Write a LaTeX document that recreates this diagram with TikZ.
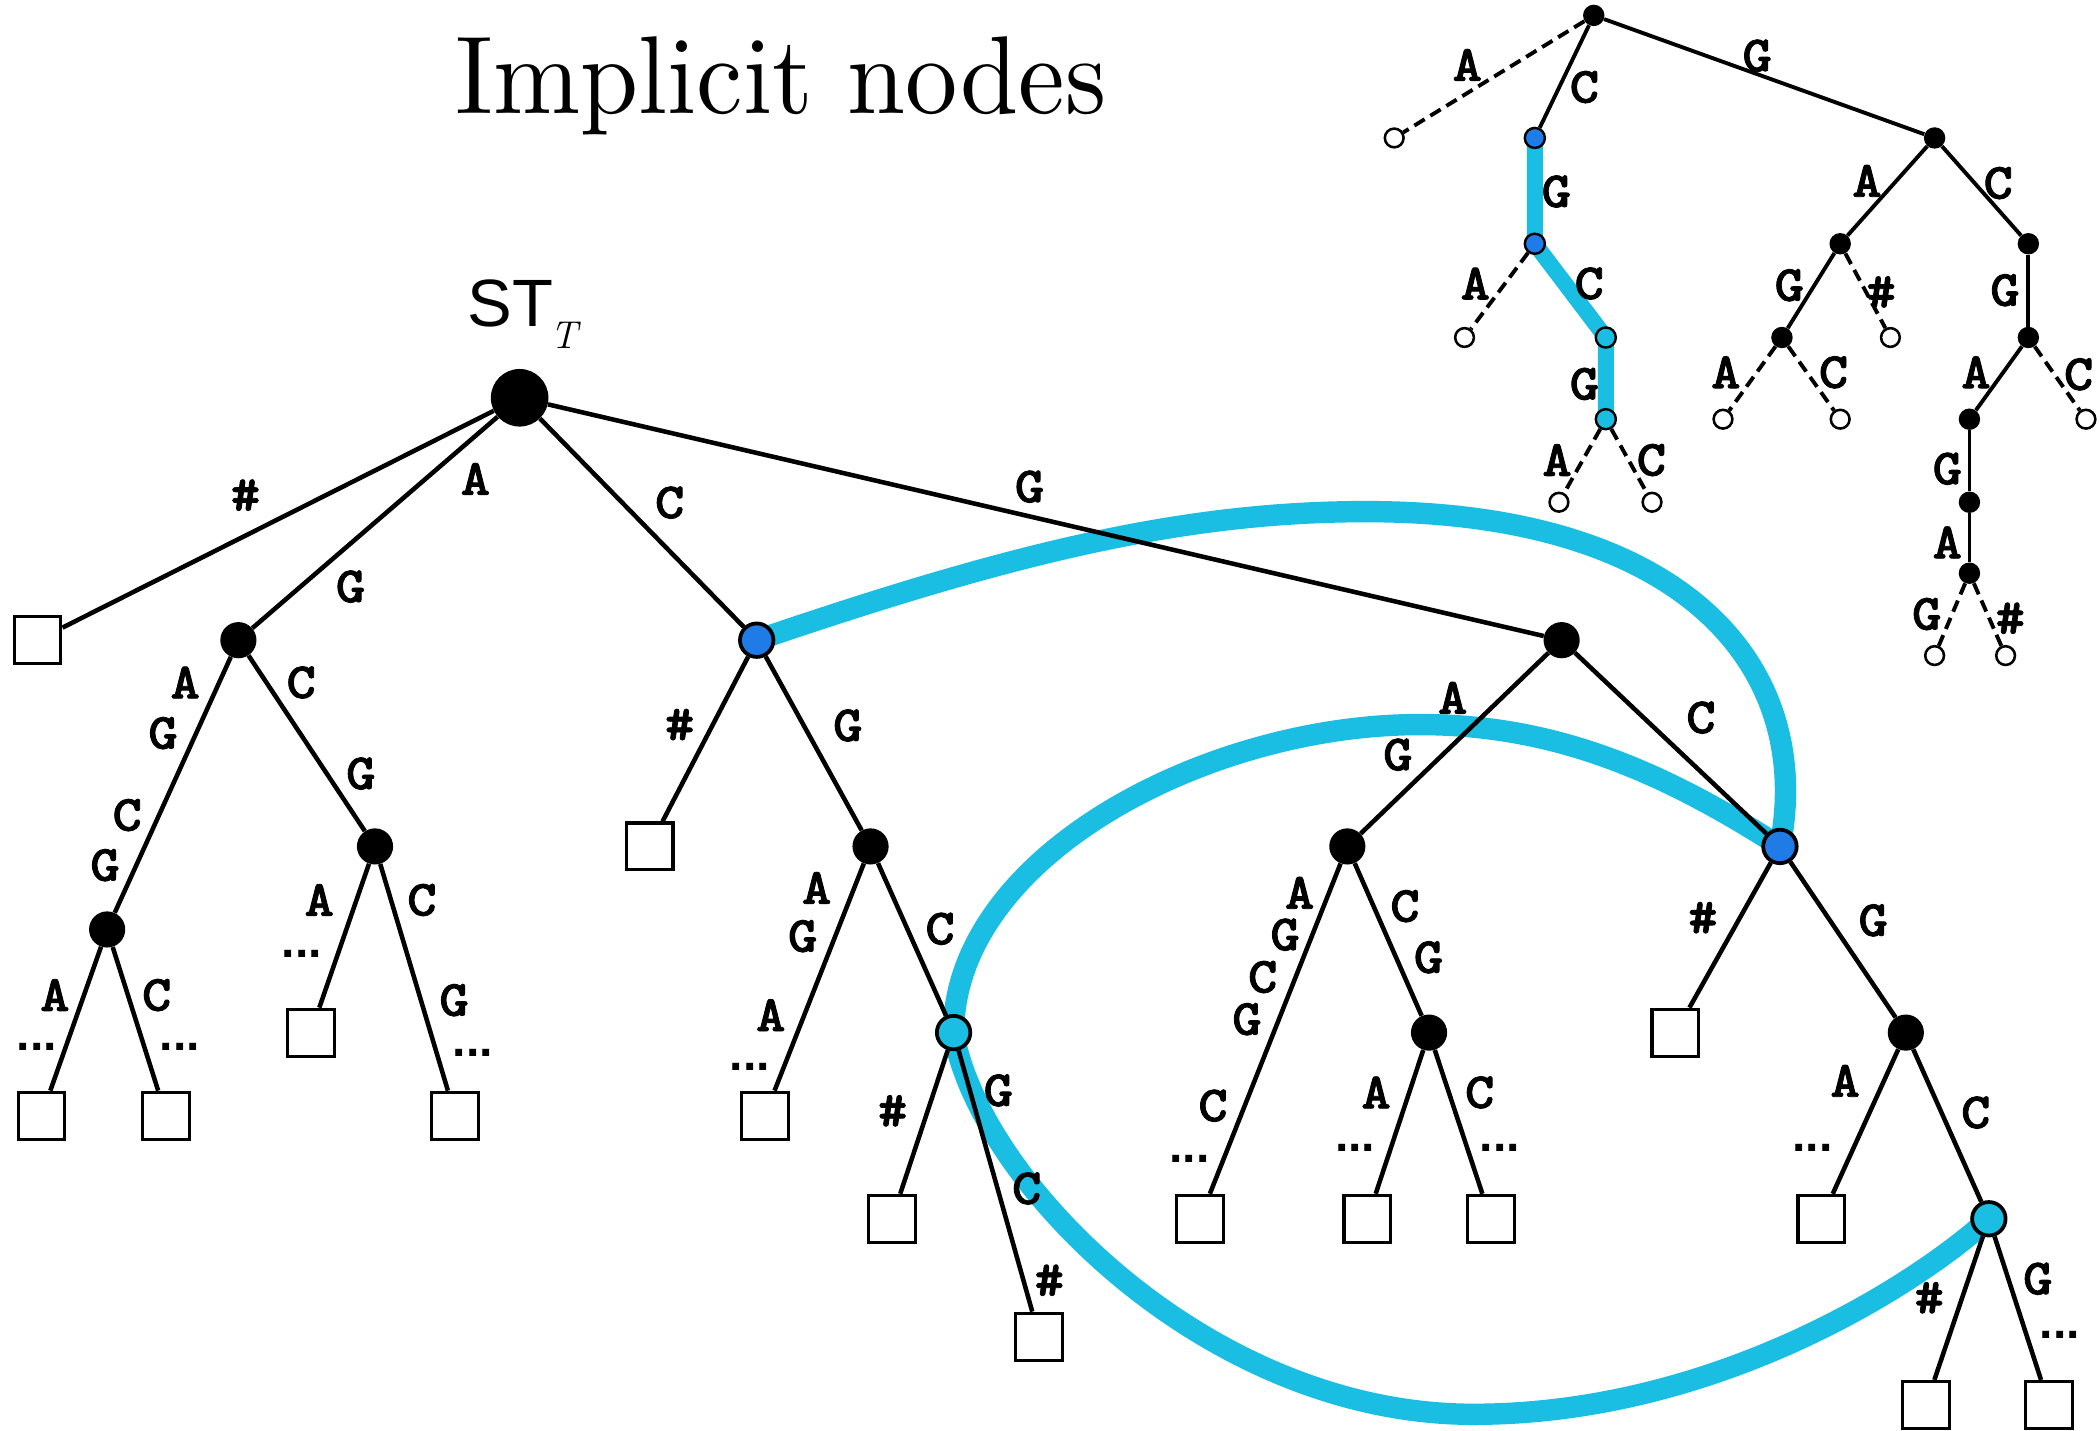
\documentclass[tikz,border=0pt]{standalone}
\usepackage{fontspec}
\setsansfont{Liberation Sans}
\newfontface\titlefont{lmroman10-regular.otf}
\newfontface\labface{lmmonolt10-bold.otf}[FakeBold=1.5]
\usetikzlibrary{backgrounds}
\definecolor{nblue}{RGB}{31,123,229}
\definecolor{ncyan}{RGB}{27,190,227}
\newcommand\labfont{\labface\fontsize{38}{38}\selectfont}
\newcommand\dotfont{\fontsize{36}{36}\selectfont\sffamily\bfseries}
\newcommand\lb[1]{\scalebox{1.1}[1]{#1}}
\begin{document}
\begin{tikzpicture}[x=1pt,y=-1pt,
 edge/.style={line width=3.4pt},
 sedge/.style={line width=2.9pt},
 dedge/.style={line width=2.9pt, dash pattern=on 9pt off 5pt},
 blk/.style={circle,fill=black,inner sep=0pt,minimum size=27pt},
 rootn/.style={blk,minimum size=43pt},
 bnode/.style={circle,fill=nblue,draw=black,line width=2.8pt,inner sep=0pt,minimum size=25pt},
 cnode/.style={bnode,fill=ncyan},
 leaf/.style={rectangle,draw=black,fill=white,line width=2.3pt,inner sep=0pt,minimum size=35pt},
 sblk/.style={circle,fill=black,inner sep=0pt,minimum size=16pt},
 sopen/.style={circle,draw=black,fill=white,line width=1.9pt,inner sep=0pt,minimum size=14pt},
 sbn/.style={circle,draw=black,fill=nblue,line width=1.8pt,inner sep=0pt,minimum size=15pt},
 scn/.style={sbn,fill=ncyan},
 lab/.style={inner sep=0pt,font=\labfont},
 dts/.style={inner sep=0pt,font=\dotfont},
 suffix/.style={draw=ncyan,line width=16pt},
 ssuffix/.style={draw=ncyan,line width=12pt,line join=round}]
\useasboundingbox (0,0) rectangle (1568,1068);

% title
\node[inner sep=0pt,anchor=base] (title) at (583.3,84.7) {\titlefont\fontsize{78}{90}\selectfont\scalebox{1}[1.06]{Implicit nodes}};
\node[inner sep=0pt,anchor=base west] (stt) at (349,244) {\sffamily\fontsize{50}{50}\selectfont ST\kern-2pt\raisebox{-16pt}{\rmfamily\itshape\fontsize{29}{29}\selectfont T}};

% main tree nodes
\node[rootn] (R) at (388,297) {};
\node[leaf] (sq1) at (28,478) {};
\node[blk] (n1) at (178,478) {};
\node[bnode] (b1) at (565,478) {};
\node[blk] (n2) at (1166,478) {};
\node[blk] (n3) at (80,694) {};
\node[blk] (n4) at (280,632) {};
\node[leaf] (sq2) at (31,833) {};
\node[leaf] (sq3) at (124,833) {};
\node[leaf] (sq4) at (232,771) {};
\node[leaf] (sq5) at (340,833) {};
\node[leaf] (sq6) at (485,632) {};
\node[blk] (n5) at (650,632) {};
\node[leaf] (sq7) at (571,833) {};
\node[cnode] (c1) at (712,771) {};
\node[leaf] (sq8) at (666,910) {};
\node[leaf] (sq9) at (776,998) {};
\node[blk] (n6) at (1006,632) {};
\node[bnode] (b2) at (1329,632) {};
\node[leaf] (sq10) at (896,910) {};
\node[blk] (n7) at (1067,771) {};
\node[leaf] (sq11) at (1021,910) {};
\node[leaf] (sq12) at (1113,910) {};
\node[leaf] (sq13) at (1251,771) {};
\node[blk] (n8) at (1423,771) {};
\node[leaf] (sq14) at (1360,910) {};
\node[cnode] (c2) at (1485,910) {};
\node[leaf] (sq15) at (1438,1049) {};
\node[leaf] (sq16) at (1530,1049) {};

% suffix-link curves
\coordinate (s1top) at (1020,382);
\coordinate (s2top) at (1060,541);
\coordinate (s3bot) at (1100,1056);
\begin{scope}[on background layer]
\draw[suffix] (b1.center) .. controls (750,415) and (880,382) .. (s1top)
   .. controls (1260,382) and (1355,500) .. (b2.center);
\draw[suffix] (b2.center) .. controls (1240,575) and (1160,541) .. (s2top)
   .. controls (900,541) and (712,640) .. (c1.center);
\draw[suffix] (c1.center) .. controls (730,880) and (900,1056) .. (s3bot)
   .. controls (1280,1056) and (1430,960) .. (c2.center);
\end{scope}

% main edges
\foreach \a/\b in {R/sq1,R/n1,R/b1,R/n2,n1/n3,n1/n4,n3/sq2,n3/sq3,n4/sq4,n4/sq5,
  b1/sq6,b1/n5,n5/sq7,n5/c1,c1/sq8,c1/sq9,n2/n6,n2/b2,n6/sq10,n6/n7,n7/sq11,n7/sq12,
  b2/sq13,b2/n8,n8/sq14,n8/c2,c2/sq15,c2/sq16}
  \draw[edge] (\a) -- (\b);

% small tree nodes
\node[sblk] (t0) at (1190,11.5) {};
\node[sopen] (to1) at (1041,103) {};
\node[sbn] (tb1) at (1146,103) {};
\node[sblk] (t1) at (1444.5,103) {};
\node[sbn] (tb2) at (1146,182) {};
\node[sopen] (to2) at (1093.5,252) {};
\node[scn] (tc1) at (1199,252) {};
\node[scn] (tc2) at (1199,313) {};
\node[sopen] (to3) at (1164,375) {};
\node[sopen] (to4) at (1233.5,375) {};
\node[sblk] (t2) at (1374,182) {};
\node[sblk] (t3) at (1514.5,182) {};
\node[sblk] (t4) at (1330.5,252) {};
\node[sopen] (to5) at (1411.5,252) {};
\node[sopen] (to6) at (1286.5,313) {};
\node[sopen] (to7) at (1374,313) {};
\node[sblk] (t5) at (1514.5,252) {};
\node[sblk] (t6) at (1470.5,313) {};
\node[sopen] (to8) at (1557.5,313) {};
\node[sblk] (t7) at (1470.5,375) {};
\node[sblk] (t8) at (1470.5,428) {};
\node[sopen] (to9) at (1444.5,489.5) {};
\node[sopen] (to10) at (1497.5,489.5) {};

\begin{scope}[on background layer]
\draw[ssuffix] (tb1.center) -- (tb2.center) -- (tc1.center) -- (tc2.center);
\end{scope}
\foreach \a/\b in {t0/tb1,t0/t1,t1/t2,t1/t3,t2/t4,t3/t5,t5/t6,t6/t7,t7/t8}
  \draw[sedge] (\a) -- (\b);
\foreach \a/\b in {t0/to1,tb2/to2,tc2/to3,tc2/to4,t2/to5,t4/to6,t4/to7,t5/to8,t8/to9,t8/to10}
  \draw[dedge] (\a) -- (\b);

% labels, main tree
\foreach \x/\y/\t [count=\i] in {
183.3/369.7/\#, 355/357.6/A, 261.7/438/G, 500/375.3/C, 768.7/363.4/G,
138.3/509.6/A, 121.7/547.4/G, 95/608.6/C, 78.4/646/G, 224.9/509.6/C, 269.4/577.6/G,
41/743/A, 117/743/C, 238.4/672/A, 315/672/C, 339/746.8/G,
507.5/541/\#, 633/541.7/G, 609.8/663/A, 599.3/699/G, 575.5/758/A, 701.9/693.5/C,
666.5/829.4/\#, 745.4/814.2/G, 766.6/887.4/C, 783.5/955.9/\#,
1084.7/521/A, 1043.7/563.5/G, 1270/535.8/C,
970.4/666.6/A, 959.5/697.9/G, 942.8/729.5/C, 931/761/G, 905.7/825.6/C,
1049/676.6/C, 1066.6/714.8/G, 1027.5/815.7/A, 1104.8/815.7/C,
1271.5/685.2/\#, 1398.6/687.2/G, 1377.7/807/A, 1475.2/830.7/C,
1440.5/969/\#, 1521.5/954.8/G}
  \node[lab] (ml\i) at (\x,\y) {\lb{\t}};

\foreach \x/\y [count=\i] in {27.4/781.5, 134.4/781.5, 225.3/712.4, 353/786.5, 560/796.8,
  888/865, 1011.8/857.3, 1120/857.3, 1353.4/857.3, 1538/996.4}
  \node[dts] (dd\i) at (\x,\y) {...};

% labels, small tree
\foreach \x/\y/\t [count=\i] in {
1095.6/48.5/A, 1183/65/C, 1312/41.6/G, 1162/143/G, 1101.6/211.7/A, 1186.6/211.7/C,
1183/286.7/G, 1162.6/343.5/A, 1233/343.5/C, 1394/135/A, 1492/136.7/C, 1336/213/G,
1404.6/218/\#, 1497/216.7/G, 1288.6/278/A, 1369/278/C, 1475.4/278/A, 1552/279.5/C,
1454/350/G, 1454/405/A, 1438.6/458.5/G, 1501/461.6/\#}
  \node[lab] (sl\i) at (\x,\y) {\lb{\t}};
\end{tikzpicture}
\end{document}
